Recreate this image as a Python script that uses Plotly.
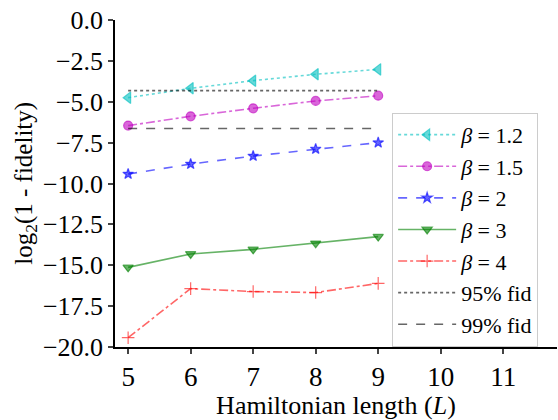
import plotly.graph_objects as go

L = [5, 6, 7, 8, 9]
beta_labels = ["<i>β</i> = 1.2", "<i>β</i> = 1.5", "<i>β</i> = 2", "<i>β</i> = 3", "<i>β</i> = 4"]
y_b12 = [-4.75, -4.18, -3.71, -3.32, -3.02]
y_b15 = [-6.46, -5.89, -5.40, -4.95, -4.63]
y_b2 = [-9.42, -8.81, -8.32, -7.89, -7.50]
y_b3 = [-15.13, -14.31, -14.03, -13.66, -13.25]
y_b4 = [-19.43, -16.43, -16.61, -16.67, -16.11]
fid95 = -4.32
fid99 = -6.64
x_ticks = [5, 6, 7, 8, 9, 10, 11]
y_ticks = [0, -2.5, -5, -7.5, -10, -12.5, -15, -17.5, -20]
y_ticktext = ["0.0", "−2.5", "−5.0", "−7.5", "−10.0", "−12.5", "−15.0", "−17.5", "−20.0"]
y_title = "log<sub>2</sub>(1 - fidelity)"

series = [
    (y_b12, "rgba(0,191,191,0.6)", "dot", "triangle-left", 10),
    (y_b15, "rgba(191,0,191,0.6)", "dashdot", "circle", 9),
    (y_b2, "rgba(0,0,255,0.6)", "dash", "star", 8),
    (y_b3, "rgba(0,128,0,0.6)", "solid", "triangle-down", 9),
    (y_b4, "rgba(255,0,0,0.6)", "dashdot", "cross-thin-open", 9),
]

font = "Liberation Serif, Times New Roman, serif"

fig = go.Figure()
for i, (ys, col, dash, sym, sz) in enumerate(series):
    fig.add_trace(go.Scatter(
        x=L, y=ys, name=beta_labels[i], mode="lines+markers",
        line=dict(color=col, dash=dash, width=1.6),
        marker=dict(symbol=sym, size=sz, color=col, line=dict(color=col, width=1.2)),
        legendgroup=f"g{i}",
    ))

fig.add_trace(go.Scatter(x=[L[0], L[-1]], y=[fid95, fid95], mode="lines", name="95% fid",
                         line=dict(color="rgba(0,0,0,0.6)", dash="dot", width=1.6), legendgroup="g95"))
fig.add_trace(go.Scatter(x=[L[0], L[-1]], y=[fid99, fid99], mode="lines", name="99% fid",
                         line=dict(color="rgba(0,0,0,0.6)", dash="dash", width=1.6), legendgroup="g99"))

fig.add_annotation(text=y_title, xref="paper", yref="paper", x=-0.203, y=0.5,
                   xanchor="center", yanchor="middle", textangle=-90, showarrow=False,
                   font=dict(family=font, size=25, color="black"))

fig.update_layout(
    width=558, height=420,
    margin=dict(l=115, r=1, t=20, b=73, autoexpand=False),
    paper_bgcolor="white", plot_bgcolor="white",
    font=dict(family=font, size=24, color="black"),
    showlegend=True,
    legend=dict(x=0.627, y=0.716, xanchor="left", yanchor="top",
                bgcolor="rgba(255,255,255,0.8)", bordercolor="#cccccc", borderwidth=1,
                font=dict(family=font, size=22, color="black"), tracegroupgap=0, itemwidth=58),
    xaxis=dict(range=[4.79, 11.86], tickvals=x_ticks, ticks="outside", ticklen=5, tickwidth=1.5,
               showline=True, linecolor="black", linewidth=1.5, showgrid=False, zeroline=False,
               automargin=False,
               title=dict(text="Hamiltonian length (<i>L</i>)", standoff=0,
                          font=dict(family=font, size=26, color="black")),
               tickfont=dict(family=font, size=27, color="black")),
    yaxis=dict(range=[-20, 0], tickvals=y_ticks, ticktext=y_ticktext, ticks="outside", ticklen=5, tickwidth=1.5,
               showline=True, linecolor="black", linewidth=1.5, showgrid=False, zeroline=False,
               automargin=False,
               tickfont=dict(family=font, size=26, color="black")),
)

fig.write_html("out.html", config={"displayModeBar": False},
               post_script="document.body.style.margin='0px';document.body.style.overflow='hidden';")
